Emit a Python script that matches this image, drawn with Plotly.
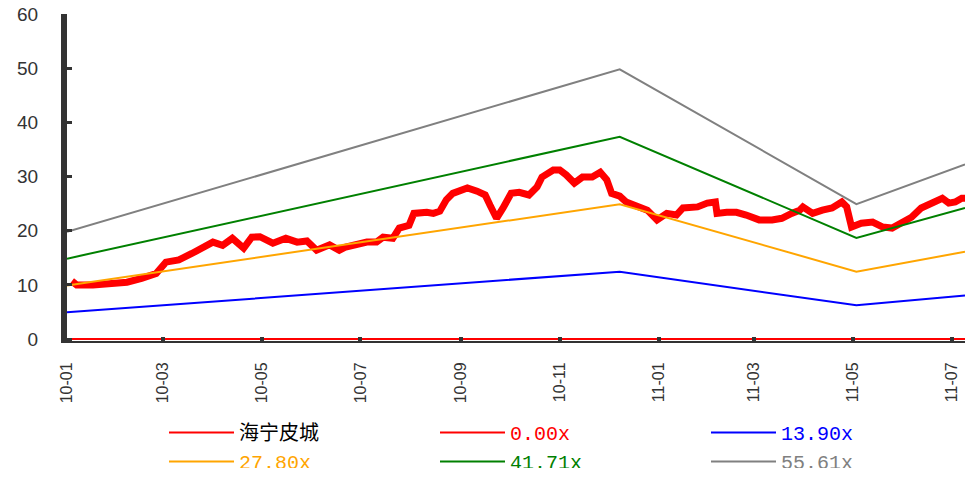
import plotly.graph_objects as go

# 海宁皮城 closing price (CNY)
price_dates = [
    "2010-01-04", "2010-01-07", "2010-01-17", "2010-01-27", "2010-02-07", "2010-02-16",
    "2010-02-25", "2010-03-03", "2010-03-11", "2010-03-19", "2010-03-26", "2010-04-01",
    "2010-04-07", "2010-04-13", "2010-04-20", "2010-04-25", "2010-04-30", "2010-05-08",
    "2010-05-16", "2010-05-23", "2010-05-29", "2010-06-04", "2010-06-12", "2010-06-18",
    "2010-06-22", "2010-06-29", "2010-07-05", "2010-07-11", "2010-07-15", "2010-07-21",
    "2010-07-25", "2010-07-31", "2010-08-03", "2010-08-11", "2010-08-15", "2010-08-19",
    "2010-08-23", "2010-08-27", "2010-09-05", "2010-09-11", "2010-09-16", "2010-09-19",
    "2010-09-23", "2010-09-27", "2010-10-02", "2010-10-07", "2010-10-13", "2010-10-18",
    "2010-10-21", "2010-10-28", "2010-11-01", "2010-11-05", "2010-11-10", "2010-11-15",
    "2010-11-21", "2010-11-26", "2010-11-30", "2010-12-03", "2010-12-08", "2010-12-12",
    "2010-12-18", "2010-12-25", "2010-12-31", "2011-01-06", "2011-01-12", "2011-01-16",
    "2011-01-25", "2011-01-31", "2011-02-05", "2011-02-06", "2011-02-12", "2011-02-18",
    "2011-02-24", "2011-03-04", "2011-03-12", "2011-03-18", "2011-03-24", "2011-03-29",
    "2011-03-31", "2011-04-06", "2011-04-12", "2011-04-18", "2011-04-24", "2011-04-27",
    "2011-04-30", "2011-05-06", "2011-05-13", "2011-05-19", "2011-05-25", "2011-05-31",
    "2011-06-06", "2011-06-12", "2011-06-19", "2011-06-25", "2011-06-29", "2011-07-03",
    "2011-07-07", "2011-07-09",
]
price_values = [
    10.7, 10.0, 10.0, 10.3, 10.5, 11.2,
    12.1, 14.2, 14.6, 15.8, 17.0, 17.9,
    17.3, 18.6, 16.8, 18.8, 18.9, 17.7,
    18.6, 17.9, 18.1, 16.4, 17.4, 16.4,
    17.0, 17.4, 17.9, 17.9, 18.8, 18.6,
    20.5, 21.0, 23.2, 23.4, 23.2, 23.6,
    25.7, 26.9, 27.9, 27.3, 26.6, 24.7,
    22.3, 24.2, 26.9, 27.1, 26.6, 28.1,
    29.9, 31.2, 31.2, 30.3, 28.8, 29.9,
    29.9, 30.8, 29.4, 26.9, 26.4, 25.3,
    24.7, 23.8, 22.0, 23.2, 22.9, 24.2,
    24.4, 25.1, 25.3, 23.2, 23.4, 23.4,
    22.9, 22.0, 22.0, 22.3, 23.2, 23.8,
    24.4, 23.2, 23.8, 24.2, 25.3, 24.4,
    20.7, 21.4, 21.6, 20.7, 20.5, 21.6,
    22.5, 24.2, 25.1, 26.0, 25.1, 25.3,
    26.0, 26.0,
]

# Rolling EPS used for the PE band lines
eps_dates = ["2010-01-01", "2010-12-08", "2011-05-03", "2011-07-09"]
eps_values = [0.356, 0.8955, 0.448, 0.580]

# PE multiples and their colours
pe_multiples = [0.00, 13.90, 27.80, 41.71, 55.61]
pe_colors = ["#FF0000", "#0000FF", "#FFA500", "#008000", "#808080"]

tick_dates = ["2010-01-01", "2010-03-01", "2010-05-01", "2010-07-01", "2010-09-01",
              "2010-11-01", "2011-01-01", "2011-03-01", "2011-05-01", "2011-07-01"]
tick_labels = ["10-01", "10-03", "10-05", "10-07", "10-09",
               "10-11", "11-01", "11-03", "11-05", "11-07"]

W, H = 965, 468
AXIS = "#333333"

fig = go.Figure()

# price line (its legend entry uses a thin line, added separately below)
fig.add_trace(go.Scatter(
    x=price_dates, y=price_values, mode="lines", name="海宁皮城",
    line=dict(color="#FF0000", width=7), showlegend=False, legendgroup="price",
))
fig.add_trace(go.Scatter(
    x=[None], y=[None], mode="lines", name="海宁皮城",
    line=dict(color="#FF0000", width=2), legendgroup="price",
))

for m, c in zip(pe_multiples, pe_colors):
    fig.add_trace(go.Scatter(
        x=eps_dates, y=[m * e for e in eps_values], mode="lines",
        name=f"<span style='color:{c}'>{m:.2f}x</span>",
        line=dict(color=c, width=2),
    ))

fig.update_layout(
    width=W, height=H,
    margin=dict(l=67, r=0, t=14, b=H - 341, autoexpand=False),
    paper_bgcolor="white", plot_bgcolor="white",
    font=dict(family="Liberation Sans, Arial, sans-serif", color=AXIS),
    showlegend=True,
    legend=dict(
        orientation="h",
        xref="container", yref="container",
        x=164 / W, y=1 - 413 / H,
        xanchor="left", yanchor="top",
        entrywidth=191, entrywidthmode="pixels",
        font=dict(family="Liberation Mono, Noto Sans CJK SC, monospace", size=20, color="#000000"),
        itemwidth=65,
        tracegroupgap=0,
        bgcolor="rgba(0,0,0,0)",
    ),
)

fig.update_xaxes(
    type="date",
    range=["2010-01-01", "2011-07-09"],
    tickmode="array", tickvals=tick_dates, ticktext=tick_labels,
    tickangle=-90,
    tickfont=dict(size=16, color=AXIS),
    ticks="inside", ticklen=4, tickwidth=4, tickcolor=AXIS,
    ticklabelstandoff=13,
    showline=True, linecolor=AXIS, linewidth=2,
    showgrid=False, zeroline=False,
)

fig.update_yaxes(
    range=[-0.35, 60],
    tickmode="array", tickvals=[0, 10, 20, 30, 40, 50, 60],
    tickfont=dict(size=19, color=AXIS),
    ticks="inside", ticklen=5, tickwidth=3, tickcolor=AXIS,
    ticklabelstandoff=19,
    showline=True, linecolor=AXIS, linewidth=6,
    showgrid=False, zeroline=False,
)

fig.write_html("out.html")
